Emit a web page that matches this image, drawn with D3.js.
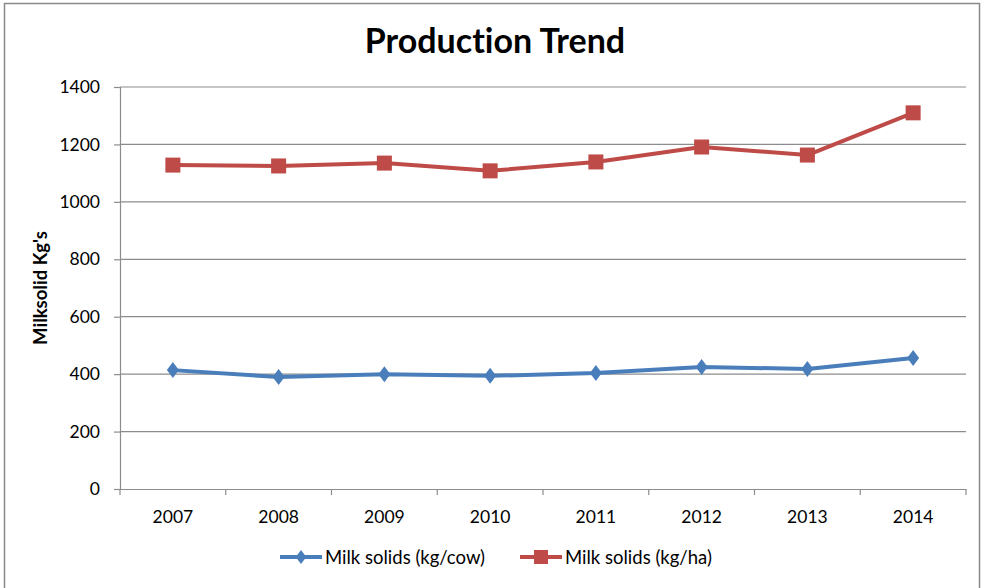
<!DOCTYPE html>
<html><head><meta charset="utf-8">
<script src="https://cdn.jsdelivr.net/npm/d3@7"></script>
<style>body{margin:0;background:#fff;} svg{display:block;font-family:Lato, "Open Sans", sans-serif;font-variant-ligatures:none;}</style>
</head><body>
<svg id="c" width="984" height="588"></svg>
<script>
const years = ["2007","2008","2009","2010","2011","2012","2013","2014"];
const perCow = [414, 390, 400, 394, 404, 425, 418, 456];
const perHa = [1128, 1125, 1135, 1108, 1139, 1191, 1163, 1310];
const yTicks = [0,200,400,600,800,1000,1200,1400];
const seriesNames = ["Milk solids (kg/cow)", "Milk solids (kg/ha)"];
const colors = ["#4A7EBB", "#BE4B48"];

const svg = d3.select("#c");
svg.append("rect").attr("x",4.5).attr("y",3.5).attr("width",975).attr("height",590)
  .attr("fill","#fff").attr("stroke","#898989").attr("stroke-width",1.5);

const L=120, R=966, T=87, B=489;
const x = d3.scaleBand().domain(years).range([L,R]);
const y = d3.scaleLinear().domain([0,1400]).range([B,T]);

svg.append("g").selectAll("line").data(yTicks.filter(d=>d>0)).join("line")
  .attr("x1",L).attr("x2",R).attr("y1",d=>y(d)).attr("y2",d=>y(d))
  .attr("stroke","#8c8c8c").attr("stroke-width",1.2);

const ya = svg.append("g").attr("transform",`translate(${L},0)`)
  .call(d3.axisLeft(y).tickValues(yTicks).tickFormat(d3.format("d")).tickSize(6).tickPadding(14));
ya.select(".domain").attr("stroke","#8c8c8c").attr("stroke-width",1.2);
ya.selectAll(".tick line").attr("stroke","#8c8c8c").attr("stroke-width",1.2);
ya.selectAll("text").attr("font-size",17.5).attr("fill","#000").attr("font-family","Lato, sans-serif");

const xa = svg.append("g").attr("transform",`translate(0,${B})`)
  .call(d3.axisBottom(x).tickSize(0).tickPadding(22));
xa.select(".domain").attr("stroke","#8c8c8c").attr("stroke-width",1.2);
xa.selectAll("text").attr("font-size",17.5).attr("fill","#000").attr("font-family","Lato, sans-serif");
const bounds = years.map(d=>x(d)).concat([x(years[years.length-1])+x.bandwidth()]);
svg.append("g").selectAll("line").data(bounds).join("line")
  .attr("x1",d=>d).attr("x2",d=>d).attr("y1",B).attr("y2",B+6)
  .attr("stroke","#8c8c8c").attr("stroke-width",1.2);

const cx = d => x(d)+x.bandwidth()/2;
const line = d3.line().x((d,i)=>cx(years[i])).y(d=>y(d));

function diamond(g, px, py, s, c){
  g.append("path").attr("d",`M${px},${py-s}L${px+s*0.75},${py}L${px},${py+s}L${px-s*0.75},${py}Z`).attr("fill",c);
}
function square(g, px, py, s, c){
  g.append("rect").attr("x",px-s).attr("y",py-s).attr("width",2*s).attr("height",2*s).attr("fill",c);
}

const data = [perCow, perHa];
data.forEach((vals,k)=>{
  svg.append("path").datum(vals).attr("d",line).attr("fill","none")
    .attr("stroke",colors[k]).attr("stroke-width",4).attr("stroke-linejoin","round");
  const g = svg.append("g");
  vals.forEach((v,i)=>{
    if(k===0) diamond(g, cx(years[i]), y(v), 8, colors[k]);
    else square(g, cx(years[i]), y(v), 7.5, colors[k]);
  });
});

svg.append("text").attr("x",495).attr("y",53).attr("text-anchor","middle")
  .attr("font-size",34).attr("font-weight","bold").text("Production Trend");
svg.append("text").attr("transform","translate(47,288) rotate(-90)").attr("text-anchor","middle")
  .attr("font-size",18.5).attr("font-weight","bold").text("Milksolid Kg's");

const leg = [{x:280},{x:520}];
leg.forEach((l,k)=>{
  const g = svg.append("g");
  g.append("line").attr("x1",l.x).attr("x2",l.x+42).attr("y1",557).attr("y2",557)
    .attr("stroke",colors[k]).attr("stroke-width",4);
  if(k===0) diamond(g,l.x+21,557,7,colors[k]); else square(g,l.x+21,557,7,colors[k]);
  g.append("text").attr("x",l.x+45).attr("y",564).attr("font-size",18.5).text(seriesNames[k]);
});
</script>
</body></html>
